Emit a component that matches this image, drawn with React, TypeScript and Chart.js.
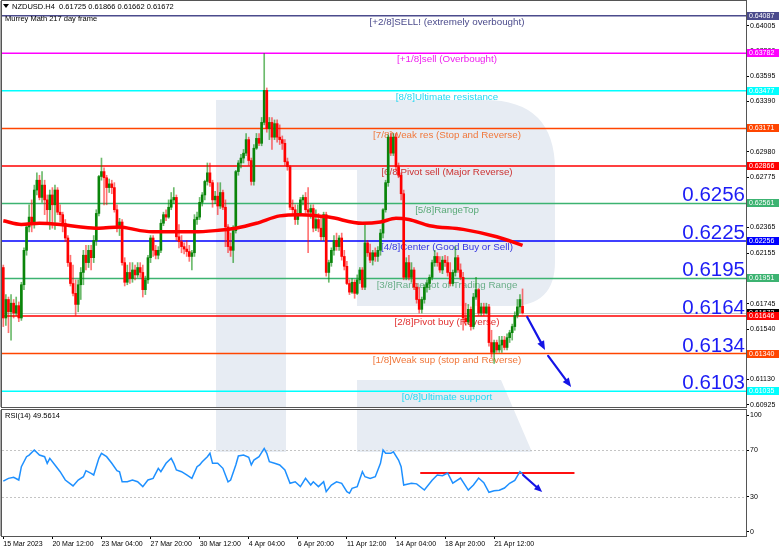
import React, { useEffect, useRef } from 'react';
import { Chart, registerables } from 'chart.js';

Chart.register(...registerables);

const FONT = "'Liberation Sans', Arial, sans-serif";

// ---------------- DATA ----------------
const header = 'NZDUSD.H4  0.61725 0.61866 0.61662 0.61672';
const indicatorName = 'Murrey Math 217 day frame';
const rsiTitle = 'RSI(14) 49.5614';

const opens = [
  0.6204, 0.6163, 0.6178, 0.6168, 0.6175, 0.6167, 0.6173, 0.6163, 0.6190, 0.6218,
  0.6237, 0.6245, 0.6241, 0.6267, 0.6275, 0.6261, 0.6271, 0.6259, 0.6251, 0.6263,
  0.6255, 0.6267, 0.6249, 0.6247, 0.6240, 0.6228, 0.6208, 0.6191, 0.6183, 0.6174,
  0.6190, 0.6200, 0.6214, 0.6208, 0.6218, 0.6212, 0.6226, 0.6248, 0.6278, 0.6282,
  0.6277, 0.6269, 0.6272, 0.6269, 0.6251, 0.6236, 0.6241, 0.6208, 0.6192, 0.6200,
  0.6195, 0.6202, 0.6198, 0.6204, 0.6200, 0.6186, 0.6194, 0.6212, 0.6228, 0.6218,
  0.6214, 0.6218, 0.6240, 0.6247, 0.6245, 0.6253, 0.6259, 0.6261, 0.6229, 0.6225,
  0.6221, 0.6219, 0.6217, 0.6213, 0.6216, 0.6243, 0.6245, 0.6257, 0.6263, 0.6274,
  0.6281, 0.6273, 0.6259, 0.6262, 0.6254, 0.6265, 0.6253, 0.6237, 0.6221, 0.6218,
  0.6234, 0.6282, 0.6289, 0.6293, 0.6297, 0.6308, 0.6291, 0.6274, 0.6301, 0.6309,
  0.6305, 0.6322, 0.6348, 0.6317, 0.6322, 0.6310, 0.6321, 0.6310, 0.6308, 0.6305,
  0.6290, 0.6286, 0.6253, 0.6251, 0.6243, 0.6248, 0.6259, 0.6261, 0.6251, 0.6249,
  0.6252, 0.6236, 0.6243, 0.6236, 0.6229, 0.6247, 0.6200, 0.6208, 0.6218, 0.6226,
  0.6221, 0.6228, 0.6213, 0.6205, 0.6191, 0.6184, 0.6192, 0.6183, 0.6194, 0.6202,
  0.6188, 0.6224, 0.6216, 0.6210, 0.6216, 0.6213, 0.6218, 0.6232, 0.6251, 0.6273,
  0.6310, 0.6297, 0.6310, 0.6286, 0.6279, 0.6264, 0.6196, 0.6208, 0.6196, 0.6202,
  0.6188, 0.6178, 0.6170, 0.6178, 0.6188, 0.6191, 0.6196, 0.6208, 0.6213, 0.6208,
  0.6202, 0.6210, 0.6208, 0.6200, 0.6191, 0.6200, 0.6212, 0.6202, 0.6196, 0.6163,
  0.6160, 0.6170, 0.6156, 0.6180, 0.6186, 0.6167, 0.6172, 0.6167, 0.6172, 0.6143,
  0.6135, 0.6143, 0.6137, 0.6141, 0.6145, 0.6139, 0.6147, 0.6151, 0.6156, 0.6165,
  0.6172, 0.61725,
];
const highs = [
  0.6206, 0.6182, 0.6180, 0.6182, 0.6178, 0.6180, 0.6176, 0.6192, 0.6220, 0.6239,
  0.6255, 0.6259, 0.6271, 0.6281, 0.6279, 0.6282, 0.6275, 0.6263, 0.6267, 0.6269,
  0.6271, 0.6269, 0.6255, 0.6249, 0.6243, 0.6230, 0.6214, 0.6206, 0.6194, 0.6194,
  0.6204, 0.6218, 0.6222, 0.6222, 0.6222, 0.6230, 0.6251, 0.6279, 0.6293, 0.6285,
  0.6279, 0.6276, 0.6275, 0.6273, 0.6255, 0.6244, 0.6243, 0.6212, 0.6206, 0.6208,
  0.6208, 0.6206, 0.6208, 0.6208, 0.6206, 0.6197, 0.6214, 0.6230, 0.6230, 0.6222,
  0.6221, 0.6243, 0.6249, 0.6251, 0.6259, 0.6265, 0.6269, 0.6263, 0.6239, 0.6230,
  0.6224, 0.6226, 0.6222, 0.6218, 0.6247, 0.6249, 0.6261, 0.6265, 0.6275, 0.6289,
  0.6289, 0.6275, 0.6266, 0.6273, 0.6273, 0.6267, 0.6259, 0.6239, 0.6232, 0.6238,
  0.6283, 0.6291, 0.6296, 0.6300, 0.6313, 0.6310, 0.6293, 0.6304, 0.6313, 0.6313,
  0.6326, 0.6378, 0.6350, 0.6326, 0.6326, 0.6324, 0.6324, 0.6320, 0.6311, 0.6308,
  0.6293, 0.6287, 0.6259, 0.6255, 0.6255, 0.6261, 0.6263, 0.6265, 0.6269, 0.6255,
  0.6255, 0.6251, 0.6248, 0.6244, 0.6249, 0.6249, 0.6210, 0.6220, 0.6230, 0.6232,
  0.6230, 0.6232, 0.6218, 0.6209, 0.6194, 0.6195, 0.6194, 0.6198, 0.6204, 0.6204,
  0.6240, 0.6226, 0.6223, 0.6218, 0.6220, 0.6221, 0.6235, 0.6252, 0.6275, 0.6312,
  0.6313, 0.6313, 0.6313, 0.6289, 0.6281, 0.6267, 0.6212, 0.6214, 0.6208, 0.6204,
  0.6191, 0.6188, 0.6180, 0.6190, 0.6194, 0.6198, 0.6210, 0.6218, 0.6216, 0.6213,
  0.6213, 0.6214, 0.6213, 0.6208, 0.6202, 0.6221, 0.6214, 0.6207, 0.6200, 0.6175,
  0.6174, 0.6172, 0.6183, 0.6196, 0.6187, 0.6175, 0.6175, 0.6175, 0.6174, 0.6153,
  0.6145, 0.6145, 0.6148, 0.6148, 0.6148, 0.6150, 0.6153, 0.6158, 0.6168, 0.6178,
  0.6182, 0.61866,
];
const lows = [
  0.6156, 0.6157, 0.6151, 0.6145, 0.6163, 0.6165, 0.6160, 0.6161, 0.6186, 0.6214,
  0.6233, 0.6233, 0.6236, 0.6263, 0.6259, 0.6257, 0.6247, 0.6241, 0.6235, 0.6236,
  0.6235, 0.6247, 0.6241, 0.6233, 0.6225, 0.6205, 0.6189, 0.6181, 0.6165, 0.6168,
  0.6178, 0.6190, 0.6202, 0.6204, 0.6202, 0.6208, 0.6222, 0.6246, 0.6275, 0.6255,
  0.6255, 0.6265, 0.6264, 0.6249, 0.6233, 0.6230, 0.6206, 0.6189, 0.6190, 0.6191,
  0.6192, 0.6194, 0.6196, 0.6196, 0.6180, 0.6182, 0.6191, 0.6208, 0.6213, 0.6211,
  0.6211, 0.6216, 0.6238, 0.6242, 0.6244, 0.6251, 0.6256, 0.6226, 0.6220, 0.6216,
  0.6215, 0.6213, 0.6209, 0.6202, 0.6213, 0.6239, 0.6243, 0.6254, 0.6259, 0.6271,
  0.6270, 0.6253, 0.6256, 0.6247, 0.6252, 0.6251, 0.6221, 0.6216, 0.6213, 0.6208,
  0.6232, 0.6279, 0.6285, 0.6289, 0.6295, 0.6287, 0.6271, 0.6271, 0.6300, 0.6303,
  0.6303, 0.6320, 0.6314, 0.6308, 0.6300, 0.6308, 0.6306, 0.6304, 0.6300, 0.6287,
  0.6283, 0.6251, 0.6247, 0.6239, 0.6239, 0.6246, 0.6255, 0.6248, 0.6216, 0.6244,
  0.6233, 0.6234, 0.6233, 0.6226, 0.6226, 0.6197, 0.6192, 0.6205, 0.6214, 0.6218,
  0.6218, 0.6210, 0.6202, 0.6190, 0.6182, 0.6183, 0.6179, 0.6182, 0.6191, 0.6186,
  0.6186, 0.6213, 0.6208, 0.6206, 0.6209, 0.6209, 0.6214, 0.6228, 0.6249, 0.6270,
  0.6295, 0.6295, 0.6283, 0.6277, 0.6259, 0.6194, 0.6194, 0.6194, 0.6192, 0.6186,
  0.6175, 0.6167, 0.6167, 0.6175, 0.6184, 0.6186, 0.6194, 0.6205, 0.6205, 0.6200,
  0.6199, 0.6205, 0.6197, 0.6189, 0.6189, 0.6197, 0.6200, 0.6194, 0.6153, 0.6157,
  0.6158, 0.6153, 0.6154, 0.6178, 0.6165, 0.6165, 0.6165, 0.6166, 0.6140, 0.6131,
  0.6126, 0.6135, 0.6135, 0.6135, 0.6137, 0.6137, 0.6143, 0.6145, 0.6153, 0.6163,
  0.6167, 0.61662,
];
const closes = [
  0.6163, 0.6178, 0.6168, 0.6175, 0.6167, 0.6173, 0.6163, 0.6190, 0.6218, 0.6237,
  0.6245, 0.6241, 0.6267, 0.6275, 0.6261, 0.6271, 0.6259, 0.6251, 0.6263, 0.6255,
  0.6267, 0.6249, 0.6247, 0.6240, 0.6228, 0.6208, 0.6191, 0.6183, 0.6174, 0.6190,
  0.6200, 0.6214, 0.6208, 0.6218, 0.6212, 0.6226, 0.6248, 0.6278, 0.6282, 0.6277,
  0.6269, 0.6272, 0.6269, 0.6251, 0.6236, 0.6241, 0.6208, 0.6192, 0.6200, 0.6195,
  0.6202, 0.6198, 0.6204, 0.6200, 0.6186, 0.6194, 0.6212, 0.6228, 0.6218, 0.6214,
  0.6218, 0.6240, 0.6247, 0.6245, 0.6253, 0.6259, 0.6261, 0.6229, 0.6225, 0.6221,
  0.6219, 0.6217, 0.6213, 0.6216, 0.6243, 0.6245, 0.6257, 0.6263, 0.6274, 0.6281,
  0.6273, 0.6259, 0.6262, 0.6254, 0.6265, 0.6253, 0.6237, 0.6221, 0.6218, 0.6234,
  0.6282, 0.6289, 0.6293, 0.6297, 0.6308, 0.6291, 0.6274, 0.6301, 0.6309, 0.6305,
  0.6322, 0.6348, 0.6317, 0.6322, 0.6310, 0.6321, 0.6310, 0.6308, 0.6305, 0.6290,
  0.6286, 0.6253, 0.6251, 0.6243, 0.6248, 0.6259, 0.6261, 0.6251, 0.6249, 0.6252,
  0.6236, 0.6243, 0.6236, 0.6229, 0.6247, 0.6200, 0.6208, 0.6218, 0.6226, 0.6221,
  0.6228, 0.6213, 0.6205, 0.6191, 0.6184, 0.6192, 0.6183, 0.6194, 0.6202, 0.6188,
  0.6224, 0.6216, 0.6210, 0.6216, 0.6213, 0.6218, 0.6232, 0.6251, 0.6273, 0.6310,
  0.6297, 0.6310, 0.6286, 0.6279, 0.6264, 0.6196, 0.6208, 0.6196, 0.6202, 0.6188,
  0.6178, 0.6170, 0.6178, 0.6188, 0.6191, 0.6196, 0.6208, 0.6213, 0.6208, 0.6202,
  0.6210, 0.6208, 0.6200, 0.6191, 0.6200, 0.6212, 0.6202, 0.6196, 0.6163, 0.6160,
  0.6170, 0.6156, 0.6180, 0.6186, 0.6167, 0.6172, 0.6167, 0.6172, 0.6143, 0.6135,
  0.6143, 0.6137, 0.6141, 0.6145, 0.6139, 0.6147, 0.6151, 0.6156, 0.6165, 0.6172,
  0.6178, 0.61672,
];

// 200-period moving average (bar index, value)
const maIndex = [0, 7, 14, 22, 30, 37, 45, 53, 59, 67, 74, 82, 90, 98, 107, 115, 126, 139, 146, 152, 157, 165, 178, 191, 201];
const maValues = [0.6242, 0.6239, 0.6240, 0.6239, 0.6237, 0.6236, 0.6237, 0.6234, 0.6233, 0.6233, 0.6233, 0.6234, 0.6236, 0.6240, 0.6246, 0.6247, 0.6245, 0.6240, 0.6241, 0.6244, 0.6243, 0.6238, 0.6235, 0.6229, 0.6222];

// RSI(14) (bar index, value)
const rsiIndex = [
  0, 2, 4, 6, 7, 9, 10, 12, 14, 16, 17, 18, 20, 22, 24, 27, 29, 31, 32, 34,
  35, 37, 38, 40, 42, 44, 45, 46, 48, 50, 52, 54, 56, 58, 60, 61, 63, 65, 66, 67,
  69, 71, 73, 75, 76, 77, 79, 80, 81, 83, 85, 87, 88, 90, 91, 93, 95, 96, 97, 99,
  101, 102, 103, 105, 107, 109, 111, 113, 115, 117, 119, 120, 122, 124, 125, 127, 129, 131, 133, 134,
  135, 137, 139, 140, 142, 144, 146, 147, 148, 150, 151, 153, 154, 155, 158, 160, 163, 166, 168, 170,
  172, 174, 177, 180, 182, 184, 186, 188, 190, 192, 194, 196, 198, 200, 201,
];
const rsiValues = [
  43.4, 45.7, 46.6, 44.3, 55.7, 64.3, 65.7, 70.0, 65.7, 64.3, 58.6, 62.9, 57.2, 51.4, 44.3, 39.2, 44.3, 47.1, 52.3, 50.0,
  48.6, 62.9, 67.2, 64.3, 58.6, 52.3, 51.4, 42.8, 42.8, 44.3, 42.8, 38.6, 44.3, 45.7, 54.3, 51.4, 58.6, 62.9, 58.6, 52.9,
  51.4, 48.6, 45.7, 55.7, 57.2, 60.0, 64.3, 67.2, 58.6, 58.6, 54.3, 42.8, 44.3, 57.2, 64.9, 65.7, 63.8, 57.2, 61.4, 64.3,
  71.4, 67.2, 60.0, 58.6, 57.2, 52.9, 41.5, 42.8, 38.6, 45.7, 40.0, 42.8, 38.6, 42.8, 34.3, 40.0, 42.8, 41.5, 34.3, 32.9,
  37.2, 38.6, 51.4, 47.1, 45.7, 47.1, 58.6, 70.0, 67.2, 67.2, 68.5, 61.4, 55.7, 40.0, 41.6, 41.0, 35.7, 44.0, 48.6, 48.0,
  50.3, 41.6, 46.0, 35.7, 40.0, 46.0, 42.0, 33.8, 35.0, 35.5, 37.4, 41.5, 44.0, 51.4, 49.56,
];

// Murrey Math levels
const levelValues = [0.64087, 0.63782, 0.63477, 0.63171, 0.62866, 0.62561, 0.62256, 0.61951, 0.61646, 0.6134, 0.61035];
const levelNames = [
  '[+2/8]SELL! (extremely overbought)',
  '[+1/8]sell (Overbought)',
  '[8/8]Ultimate resistance',
  '[7/8]Weak res (Stop and Reverse)',
  '[6/8]Pivot sell (Major Reverse)',
  '[5/8]RangeTop',
  '[4/8]Center (Good Buy or Sell)',
  '[3/8]RangeBot of Trading Range',
  '[2/8]Pivot buy (Reverse)',
  '[1/8]Weak sup (stop and Reverse)',
  '[0/8]Ultimate support',
];
const levelColors = ['#4b4b8c', '#ff00ff', '#00ffff', '#ff4500', '#ff0000', '#3cb371', '#0000ff', '#3cb371', '#ff0000', '#ff4500', '#00ffff'];
const levelTextColors = ['#4b4b8c', '#ee22ee', '#22d8f2', '#f0783c', '#cc3333', '#5aaa78', '#3535e0', '#6aae88', '#e03030', '#f0783c', '#22d8f2'];

// big blue price annotations
const bigLabelLevels = [0.62561, 0.62256, 0.61951, 0.61646, 0.6134, 0.61035];
const bigLabelTexts = ['0.6256', '0.6225', '0.6195', '0.6164', '0.6134', '0.6103'];

const lastPrice = 0.61672;
const priceTicks = [0.64005, 0.638, 0.63595, 0.6339, 0.63185, 0.6298, 0.62775, 0.6257, 0.62365, 0.62155, 0.6195, 0.61745, 0.6154, 0.61335, 0.6113, 0.60925];
const priceMin = 0.60906;
const priceMax = 0.64207;

const rsiTicks = [100, 70, 30, 0];
const rsiLevels = [70, 30];

const timeLabels = ['15 Mar 2023', '20 Mar 12:00', '23 Mar 04:00', '27 Mar 20:00', '30 Mar 12:00', '4 Apr 04:00', '6 Apr 20:00', '11 Apr 12:00', '14 Apr 04:00', '18 Apr 20:00', '21 Apr 12:00'];
const timeTickIndex = [0, 19, 38, 57, 76, 95, 114, 133, 152, 171, 190];
const slotMin = -0.5;
const slotMax = 287.5;

// forecast annotations (bar index, price / rsi)
const arrowFromIndex = [202.8, 210.9];
const arrowFromPrice = [0.61638, 0.61321];
const arrowToIndex = [209.7, 219.8];
const arrowToPrice = [0.6137, 0.61069];
const rsiLineIndex = [161.4, 221.1];
const rsiLineValue = [50.3, 50.3];
const rsiArrowIndex = [201.2, 208.6];
const rsiArrowValue = [48.6, 34.0];

// ---------------- DRAWING HELPERS ----------------
const MAIN_TOP = 0;
const RSI_TOP = 408;

function drawWatermark(ctx: CanvasRenderingContext2D, offY: number, area: any) {
  ctx.save();
  ctx.beginPath();
  ctx.rect(area.left, area.top, area.right - area.left, area.bottom - area.top);
  ctx.clip();
  ctx.translate(0, -offY);
  ctx.fillStyle = '#e7ecf3';
  ctx.beginPath();
  ctx.moveTo(216, 100);
  ctx.lineTo(485, 100);
  ctx.quadraticCurveTo(555, 100, 555, 170);
  ctx.lineTo(555, 262);
  ctx.quadraticCurveTo(555, 306, 510, 306);
  ctx.lineTo(357, 306);
  ctx.lineTo(357, 170);
  ctx.lineTo(286, 170);
  ctx.lineTo(286, 452);
  ctx.lineTo(216, 452);
  ctx.closePath();
  ctx.fill();
  ctx.beginPath();
  ctx.moveTo(357, 380);
  ctx.lineTo(501, 380);
  ctx.lineTo(532, 452);
  ctx.lineTo(357, 452);
  ctx.closePath();
  ctx.fill();
  ctx.restore();
}

function drawArrow(ctx: CanvasRenderingContext2D, x0: number, y0: number, x1: number, y1: number, color: string, w: number, head: number) {
  const a = Math.atan2(y1 - y0, x1 - x0);
  const c = Math.cos(a), s = Math.sin(a);
  ctx.save();
  ctx.strokeStyle = color;
  ctx.fillStyle = color;
  ctx.lineWidth = w;
  ctx.lineCap = 'round';
  ctx.beginPath();
  ctx.moveTo(x0, y0);
  ctx.lineTo(x1 - head * 0.7 * c, y1 - head * 0.7 * s);
  ctx.stroke();
  ctx.beginPath();
  ctx.moveTo(x1, y1);
  ctx.lineTo(x1 - head * c + head * 0.42 * s, y1 - head * s - head * 0.42 * c);
  ctx.lineTo(x1 - head * c - head * 0.42 * s, y1 - head * s + head * 0.42 * c);
  ctx.closePath();
  ctx.fill();
  ctx.restore();
}

function drawTag(ctx: CanvasRenderingContext2D, x: number, y: number, text: string, bg: string) {
  ctx.fillStyle = bg;
  ctx.fillRect(x, Math.round(y) - 4, 32, 8);
  ctx.fillStyle = '#ffffff';
  ctx.font = `7px ${FONT}`;
  ctx.textAlign = 'left';
  ctx.textBaseline = 'middle';
  ctx.fillText(text, x + 2, Math.round(y) + 0.5);
}

function drawFrame(ctx: CanvasRenderingContext2D, area: any) {
  ctx.save();
  ctx.strokeStyle = '#555555';
  ctx.lineWidth = 1;
  ctx.strokeRect(area.left - 0.5, area.top - 0.5, area.right - area.left + 1, area.bottom - area.top + 1);
  ctx.fillStyle = '#a8a8a8';
  ctx.fillRect(0, area.top, 1, area.bottom - area.top);
  ctx.restore();
}

const mainDecor = {
  id: 'mainDecor',
  beforeDraw(chart: any) {
    drawWatermark(chart.ctx, MAIN_TOP, chart.chartArea);
  },
  beforeDatasetsDraw(chart: any) {
    const { ctx, chartArea: a, scales } = chart;
    const ys = scales.y;
    ctx.save();
    // bid line
    const by = Math.round(ys.getPixelForValue(lastPrice)) + 0.5;
    ctx.strokeStyle = '#c8c8c8';
    ctx.lineWidth = 1;
    ctx.beginPath();
    ctx.moveTo(a.left, by);
    ctx.lineTo(a.right, by);
    ctx.stroke();
    // Murrey levels
    levelValues.forEach((v, k) => {
      const y = ys.getPixelForValue(v);
      ctx.strokeStyle = levelColors[k];
      ctx.lineWidth = 1.5;
      ctx.beginPath();
      ctx.moveTo(a.left, y);
      ctx.lineTo(a.right, y);
      ctx.stroke();
      ctx.fillStyle = levelTextColors[k];
      ctx.font = `9.8px ${FONT}`;
      ctx.textAlign = 'center';
      ctx.textBaseline = 'top';
      ctx.fillText(levelNames[k], 447, y + 1.5);
    });
    // big labels
    bigLabelLevels.forEach((v, k) => {
      const y = ys.getPixelForValue(v);
      ctx.fillStyle = '#1c1cf5';
      ctx.font = `20.5px ${FONT}`;
      ctx.textAlign = 'right';
      ctx.textBaseline = 'alphabetic';
      ctx.fillText(bigLabelTexts[k], a.right - 1, y - 2);
    });
    ctx.restore();
  },
  afterDatasetsDraw(chart: any) {
    const { ctx, scales } = chart;
    arrowFromIndex.forEach((_, k) => {
      drawArrow(
        ctx,
        scales.x.getPixelForValue(arrowFromIndex[k]),
        scales.y.getPixelForValue(arrowFromPrice[k]),
        scales.x.getPixelForValue(arrowToIndex[k]),
        scales.y.getPixelForValue(arrowToPrice[k]),
        '#1414e6',
        2.2,
        9,
      );
    });
  },
  afterDraw(chart: any) {
    const { ctx, chartArea: a, scales } = chart;
    ctx.save();
    drawFrame(ctx, a);
    // header
    ctx.fillStyle = '#000';
    ctx.beginPath();
    ctx.moveTo(3, 4);
    ctx.lineTo(9, 4);
    ctx.lineTo(6, 8);
    ctx.closePath();
    ctx.fill();
    ctx.font = `7.5px ${FONT}`;
    ctx.textAlign = 'left';
    ctx.textBaseline = 'middle';
    ctx.fillText(header, 12, 6.5);
    ctx.fillText(indicatorName, 5, 18.5);
    // price tags
    drawTag(ctx, a.right + 1, scales.y.getPixelForValue(lastPrice), lastPrice.toFixed(5), '#000000');
    levelValues.forEach((v, k) => {
      drawTag(ctx, a.right + 1, scales.y.getPixelForValue(v), v.toFixed(5), levelColors[k]);
    });
    ctx.restore();
  },
};

const rsiDecor = {
  id: 'rsiDecor',
  beforeDraw(chart: any) {
    drawWatermark(chart.ctx, RSI_TOP, chart.chartArea);
  },
  beforeDatasetsDraw(chart: any) {
    const { ctx, chartArea: a, scales } = chart;
    ctx.save();
    ctx.strokeStyle = '#c4c4c4';
    ctx.lineWidth = 1;
    ctx.setLineDash([2, 2]);
    rsiLevels.forEach((v) => {
      const y = Math.round(scales.y.getPixelForValue(v)) + 0.5;
      ctx.beginPath();
      ctx.moveTo(a.left, y);
      ctx.lineTo(a.right, y);
      ctx.stroke();
    });
    ctx.restore();
  },
  afterDatasetsDraw(chart: any) {
    const { ctx, scales } = chart;
    drawArrow(
      ctx,
      scales.x.getPixelForValue(rsiArrowIndex[0]),
      scales.y.getPixelForValue(rsiArrowValue[0]),
      scales.x.getPixelForValue(rsiArrowIndex[1]),
      scales.y.getPixelForValue(rsiArrowValue[1]),
      '#1414e6',
      2.2,
      8,
    );
  },
  afterDraw(chart: any) {
    const { ctx, chartArea: a } = chart;
    ctx.save();
    drawFrame(ctx, a);
    ctx.fillStyle = '#000';
    ctx.font = `7.5px ${FONT}`;
    ctx.textAlign = 'left';
    ctx.textBaseline = 'middle';
    ctx.fillText(rsiTitle, 5, a.top + 5.5);
    ctx.restore();
  },
};

function mainConfig(): any {
  const bodyColors = opens.map((o, i) => (closes[i] >= o ? '#0a850a' : '#ff0000'));
  const wickColors = opens.map((o, i) => (closes[i] >= o ? 'rgba(10,140,10,0.6)' : 'rgba(255,0,0,0.55)'));
  return {
    type: 'bar',
    data: {
      datasets: [
        {
          type: 'line',
          label: 'MA',
          data: maIndex.map((x, k) => ({ x, y: maValues[k] })),
          borderColor: '#ff0000',
          borderWidth: 3.5,
          pointRadius: 0,
          cubicInterpolationMode: 'monotone',
          order: 0,
        },
        {
          type: 'bar',
          label: 'body',
          data: opens.map((o, i) => ({ x: i, y: [o, closes[i]] })),
          backgroundColor: bodyColors,
          barThickness: 2,
          minBarLength: 1,
          grouped: false,
          order: 1,
        },
        {
          type: 'bar',
          label: 'wick',
          data: lows.map((l, i) => ({ x: i, y: [l, highs[i]] })),
          backgroundColor: wickColors,
          barThickness: 1,
          grouped: false,
          order: 2,
        },
      ],
    },
    options: {
      animation: false,
      responsive: false,
      maintainAspectRatio: false,
      events: [],
      layout: { padding: { left: 2, top: 1, right: 0, bottom: 1 } },
      plugins: { legend: { display: false }, tooltip: { enabled: false } },
      scales: {
        x: { type: 'linear', display: false, min: slotMin, max: slotMax, offset: false },
        y: {
          type: 'linear',
          position: 'right',
          min: priceMin,
          max: priceMax,
          afterBuildTicks: (s: any) => {
            s.ticks = priceTicks.map((v) => ({ value: v }));
          },
          afterFit: (s: any) => {
            s.width = 36;
            s.paddingTop = 0;
            s.paddingBottom = 0;
          },
          ticks: {
            autoSkip: false,
            padding: 1,
            color: '#000',
            font: { family: FONT, size: 7 },
            callback: (v: any) => Number(v).toFixed(5),
          },
          grid: { drawOnChartArea: false, drawTicks: true, tickLength: 3, color: '#000' },
          border: { display: true, color: '#000' },
        },
      },
    },
    plugins: [mainDecor],
  };
}

function rsiConfig(): any {
  return {
    type: 'line',
    data: {
      datasets: [
        {
          label: 'RSI',
          data: rsiIndex.map((x, k) => ({ x, y: rsiValues[k] })),
          borderColor: '#1e90ff',
          borderWidth: 1.5,
          pointRadius: 0,
          tension: 0,
          order: 0,
        },
        {
          label: 'res',
          data: rsiLineIndex.map((x, k) => ({ x, y: rsiLineValue[k] })),
          borderColor: '#ff1010',
          borderWidth: 2,
          pointRadius: 0,
          order: 1,
        },
      ],
    },
    options: {
      animation: false,
      responsive: false,
      maintainAspectRatio: false,
      events: [],
      layout: { padding: { left: 2, top: 2, right: 0, bottom: 0 } },
      plugins: { legend: { display: false }, tooltip: { enabled: false } },
      scales: {
        x: {
          type: 'linear',
          position: 'bottom',
          min: slotMin,
          max: slotMax,
          offset: false,
          afterBuildTicks: (s: any) => {
            s.ticks = timeTickIndex.map((v) => ({ value: v }));
          },
          afterFit: (s: any) => {
            s.height = 16;
            s.paddingLeft = 0;
            s.paddingRight = 0;
          },
          ticks: {
            autoSkip: false,
            maxRotation: 0,
            minRotation: 0,
            align: 'start',
            padding: 1,
            color: '#000',
            font: { family: FONT, size: 7 },
            callback: (_v: any, idx: number) => timeLabels[idx],
          },
          grid: { drawOnChartArea: false, drawTicks: true, tickLength: 3, color: '#000' },
          border: { display: true, color: '#000' },
        },
        y: {
          type: 'linear',
          position: 'right',
          min: -3.7,
          max: 104.3,
          afterBuildTicks: (s: any) => {
            s.ticks = rsiTicks.map((v) => ({ value: v }));
          },
          afterFit: (s: any) => {
            s.width = 36;
            s.paddingTop = 0;
            s.paddingBottom = 0;
          },
          ticks: {
            autoSkip: false,
            padding: 1,
            color: '#000',
            font: { family: FONT, size: 7 },
            callback: (v: any) => String(v),
          },
          grid: { drawOnChartArea: false, drawTicks: true, tickLength: 3, color: '#000' },
          border: { display: true, color: '#000' },
        },
      },
    },
    plugins: [rsiDecor],
  };
}

export default function App() {
  const mainRef = useRef<HTMLCanvasElement | null>(null);
  const rsiRef = useRef<HTMLCanvasElement | null>(null);

  useEffect(() => {
    const main = new Chart(mainRef.current as HTMLCanvasElement, mainConfig());
    const rsi = new Chart(rsiRef.current as HTMLCanvasElement, rsiConfig());
    return () => {
      main.destroy();
      rsi.destroy();
    };
  }, []);

  return (
    <div style={{ position: 'absolute', left: 0, top: 0, width: 782, height: 552, background: '#ffffff', overflow: 'hidden' }}>
      <canvas ref={mainRef} width={782} height={408} style={{ position: 'absolute', left: 0, top: MAIN_TOP, width: 782, height: 408 }} />
      <canvas ref={rsiRef} width={782} height={144} style={{ position: 'absolute', left: 0, top: RSI_TOP, width: 782, height: 144 }} />
    </div>
  );
}
